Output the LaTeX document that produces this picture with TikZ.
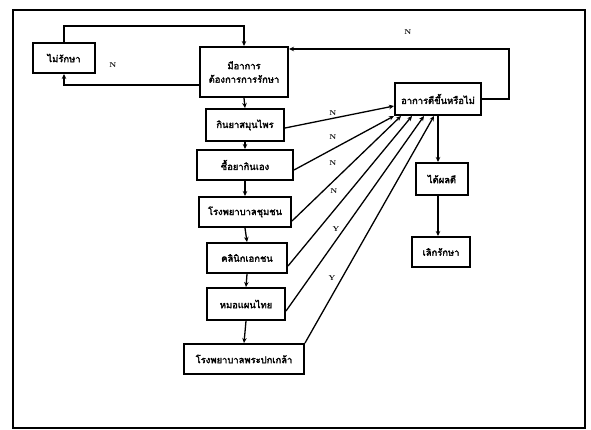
\documentclass[tikz,border=0pt]{standalone}
\usepackage{fontspec}
\newfontfamily\thaifont[Script=Thai,AutoFakeBold=2.5]{Loma}
\usetikzlibrary{arrows.meta}
\begin{document}
\begin{tikzpicture}[x=1pt,y=-1pt,
  box/.style={draw,line width=2pt,inner sep=1pt,align=center,
    font=\thaifont\bfseries\fontsize{9.4}{10.5}\selectfont},
  flow/.style={line width=1.3pt,-{Stealth[length=5pt,width=4.5pt]}},
  lbl/.style={font=\bfseries\fontsize{7}{8}\selectfont,inner sep=0pt}]
\useasboundingbox (0,0) rectangle (591,430);
% page frame
\draw[line width=2.6pt] (13,10) rectangle (585,428);

% treatment chain
\node[box,minimum width=62pt,minimum height=30pt] (L) at (64,58) {ไม่รักษา};
\node[box,minimum width=88pt,minimum height=50pt] (T) at (244,72) {มีอาการ\\[3pt]ต้องการการรักษา};
\node[box,minimum width=78pt,minimum height=32pt] (b2) at (245,125) {กินยาสมุนไพร};
\node[box,minimum width=96pt,minimum height=30pt] (b3) at (245,165) {ซื้อยากินเอง};
\node[box,minimum width=92pt,minimum height=30pt] (b4) at (245,212) {โรงพยาบาลชุมชน};
\node[box,minimum width=80pt,minimum height=30pt] (b5) at (247,258) {คลินิกเอกชน};
\node[box,minimum width=78pt,minimum height=32pt] (b6) at (246,304) {หมอแผนไทย};
\node[box,minimum width=120pt,minimum height=30pt] (b7) at (244,359) {โรงพยาบาลพระปกเกล้า};

% outcome side
\node[box,minimum width=86pt,minimum height=32pt] (R) at (438,99) {อาการดีขึ้นหรือไม่};
\node[box,minimum width=52pt,minimum height=32pt] (D) at (442,179) {ได้ผลดี};
\node[box,minimum width=58pt,minimum height=30pt] (E) at (441,252) {เลิกรักษา};

% loops at the top
\draw[flow] (L.north) -- ++(0,-16) -| (T.north);
\draw[flow] ([yshift=-13pt]T.west) -| (L.south);
\node[lbl] at (113,65) {N};
\draw[flow] (R.east) -- ++(27,0) |- ([yshift=-3pt]T.north east);
\node[lbl] at (408,32) {N};

% vertical chain
\draw[flow] (T.south) -- (b2.north);
\draw[flow] (b2.south) -- (b3.north);
\draw[flow] (b3.south) -- (b4.north);
\draw[flow] (b4.south) -- (b5.north);
\draw[flow] (b5.south) -- (b6.north);
\draw[flow] (b6.south) -- (b7.north);

% every option leads to the outcome box
\draw[flow] ([yshift=-3pt]b2.east) -- ([yshift=-7pt]R.west);
\draw[flow] ([yshift=-5pt]b3.east) -- (R.south west);
\draw[flow] ([yshift=-9pt]b4.east) -- ([xshift=7pt]R.south west);
\draw[flow] ([yshift=-8pt]b5.east) -- ([xshift=18pt]R.south west);
\draw[flow] ([yshift=-7pt]b6.east) -- ([xshift=30pt]R.south west);
\draw[flow] (b7.north east) -- ([xshift=40pt]R.south west);
\node[lbl] at (333,113) {N};
\node[lbl] at (333,137) {N};
\node[lbl] at (333,163) {N};
\node[lbl] at (334,191) {N};
\node[lbl] at (336,229) {Y};
\node[lbl] at (332,278) {Y};

\draw[flow] (R.south) -- (R.south |- D.north);
\draw[flow] (D.south -| R.south) -- (E.north -| R.south);
\end{tikzpicture}
\end{document}
